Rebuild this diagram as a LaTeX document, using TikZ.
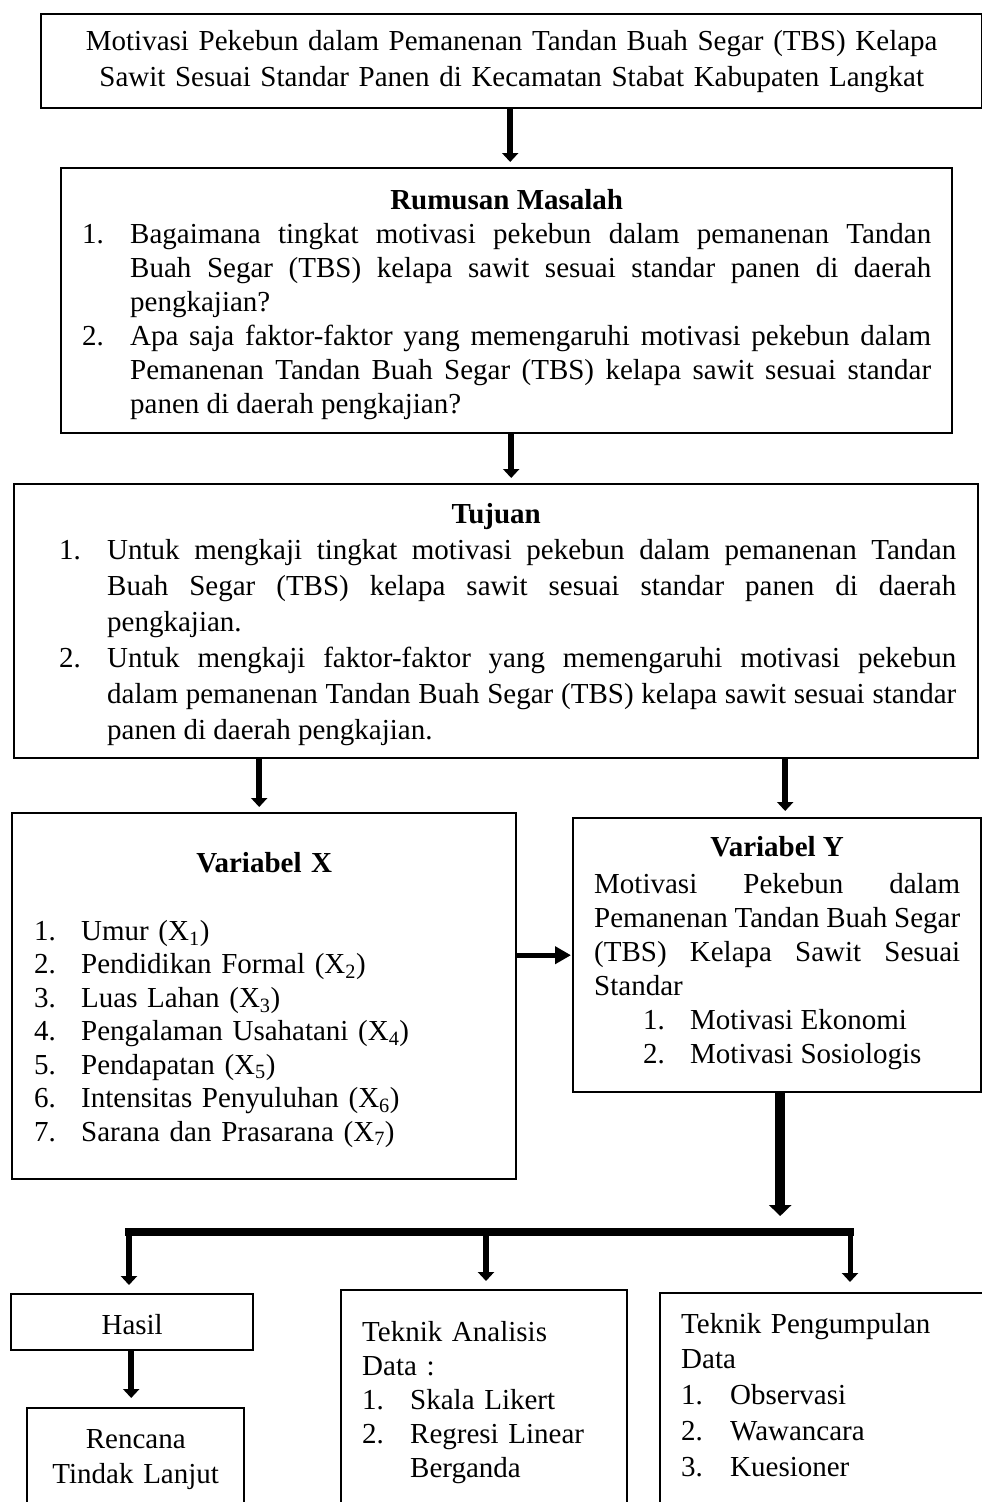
\documentclass[tikz,border=0pt]{standalone}
\usepackage{fontspec}
\setmainfont{Liberation Serif}
\usetikzlibrary{arrows.meta}
\newcommand{\butir}[4]{\par\leftskip=#1\relax\hangindent=#2\relax\hangafter=1\noindent\makebox[#2][l]{#3}#4}

\begin{document}
\begin{tikzpicture}[x=1pt,y=-1pt]
	\tikzstyle{every node}+=[inner sep=0pt]
	\tikzstyle{kotak}=[draw=black, line width=2.4pt, anchor=north west, inner ysep=0pt, inner xsep=21pt, align=justify, font=\fontsize{29}{34}\selectfont]
	\tikzstyle{panah}=[line width=6.5pt, -{Triangle[length=9pt,width=16pt]}]
	\tikzstyle{panahkecil}=[line width=5pt, -{Triangle[length=16pt,width=17pt]}]
	\tikzstyle{panahtebal}=[line width=10pt, -{Triangle[length=11pt,width=22pt]}]
	\clip (0,0) rectangle (982,1502);
	\node (judul) [kotak, align=center, inner xsep=20.5pt, text width=900pt, text height=36pt, text depth=58pt, font=\fontsize{29}{36}\selectfont] at (40,13) {Motivasi Pekebun dalam Pemanenan Tandan Buah Segar (TBS) Kelapa\\Sawit Sesuai Standar Panen di Kecamatan Stabat Kabupaten Langkat};
	\node (rumusan) [kotak, text width=849pt, text height=41pt, text depth=224pt] at (60,167) {{\centering\bfseries Rumusan Masalah\par}
		\butir{0pt}{48pt}{1.}{Bagaimana tingkat motivasi pekebun dalam pemanenan Tandan\linebreak Buah Segar (TBS) kelapa sawit sesuai standar panen di daerah\linebreak pengkajian?}
		\butir{0pt}{48pt}{2.}{Apa saja faktor-faktor yang memengaruhi motivasi pekebun dalam\linebreak Pemanenan Tandan Buah Segar (TBS) kelapa sawit sesuai standar\linebreak panen di daerah pengkajian?}\par};
	\node (tujuan) [kotak, inner xsep=22pt, text width=920pt, text height=39pt, text depth=235pt, font=\fontsize{29}{36}\selectfont] at (13,483) {{\centering\bfseries Tujuan\par}
		\butir{23pt}{48pt}{1.}{Untuk mengkaji tingkat motivasi pekebun dalam pemanenan Tandan\linebreak Buah Segar (TBS) kelapa sawit sesuai standar panen di daerah\linebreak pengkajian.}
		\butir{23pt}{48pt}{2.}{Untuk mengkaji faktor-faktor yang memengaruhi motivasi pekebun\linebreak dalam pemanenan Tandan Buah Segar (TBS) kelapa sawit sesuai standar\linebreak panen di daerah pengkajian.}\par};
	\node (varx) [kotak, align=left, inner xsep=22pt, text width=460pt, text height=59pt, text depth=307pt, font=\fontsize{29}{33.5}\selectfont] at (11,812) {{\centering\bfseries Variabel X\par}\vspace{34.5pt}
		\butir{0pt}{47pt}{1.}{Umur (X\textsubscript{1})}
		\butir{0pt}{47pt}{2.}{Pendidikan Formal (X\textsubscript{2})}
		\butir{0pt}{47pt}{3.}{Luas Lahan (X\textsubscript{3})}
		\butir{0pt}{47pt}{4.}{Pengalaman Usahatani (X\textsubscript{4})}
		\butir{0pt}{47pt}{5.}{Pendapatan (X\textsubscript{5})}
		\butir{0pt}{47pt}{6.}{Intensitas Penyuluhan (X\textsubscript{6})}
		\butir{0pt}{47pt}{7.}{Sarana dan Prasarana (X\textsubscript{7})}\par};
	\node (vary) [kotak, text width=366pt, text height=38pt, text depth=236pt] at (572,817) {{\centering\bfseries Variabel Y\par}\vspace{3pt}
		Motivasi Pekebun dalam\linebreak Pemanenan Tandan Buah Segar\linebreak (TBS) Kelapa Sawit Sesuai\linebreak Standar
		\butir{49pt}{47pt}{1.}{Motivasi Ekonomi}
		\butir{49pt}{47pt}{2.}{Motivasi Sosiologis}\par};
	\node (hasil) [kotak, align=center, inner xsep=10pt, text width=222pt, text height=40pt, text depth=16pt] at (10,1293) {Hasil};
	\node (rencana) [kotak, align=center, inner xsep=10pt, text width=197pt, text height=40pt, text depth=150pt, font=\fontsize{29}{35}\selectfont] at (26,1407) {Rencana\\Tindak Lanjut};
	\node (analisis) [kotak, align=left, text width=244pt, text height=51pt, text depth=200pt] at (340,1289) {Teknik Analisis\par Data :
		\butir{0pt}{48pt}{1.}{Skala Likert}
		\butir{0pt}{48pt}{2.}{Regresi Linear\hfil\break Berganda}\par};
	\node (kumpul) [kotak, align=left, text width=380pt, text height=40pt, text depth=200pt, font=\fontsize{29}{35.75}\selectfont] at (659,1292) {Teknik Pengumpulan\par Data
		\butir{0pt}{49pt}{1.}{Observasi}
		\butir{0pt}{49pt}{2.}{Wawancara}
		\butir{0pt}{49pt}{3.}{Kuesioner}\par};
	\coordinate (cabangkiri) at (129,1232);
	\coordinate (cabangtengah) at (486,1232);
	\coordinate (cabangkanan) at (850,1232);
	\draw [panah, shorten >=5pt] ([xshift=-1.5pt]judul.south) -- ([xshift=-1.5pt]judul.south |- rumusan.north);
	\draw [panah, shorten >=5pt] ([xshift=4.5pt]rumusan.south) -- ([xshift=4.5pt]rumusan.south |- tujuan.north);
	\draw [panah, shorten >=5pt] ([xshift=-5pt]varx.north |- tujuan.south) -- ([xshift=-5pt]varx.north);
	\draw [panah, shorten >=6pt] ([xshift=8pt]vary.north |- tujuan.south) -- ([xshift=8pt]vary.north);
	\draw [panahkecil, shorten >=1pt] ([yshift=41pt]varx.east) -- ([yshift=41pt]varx.east -| vary.west);
	\draw [panahtebal, shorten >=16pt] ([xshift=3pt]vary.south) -- ([xshift=3pt]vary.south |- cabangtengah);
	\draw [line width=8pt, line cap=rect] (cabangkiri) -- (cabangkanan);
	\draw [panah, shorten >=8pt] (cabangkiri) -- (cabangkiri |- hasil.north);
	\draw [panah, shorten >=8pt] (cabangtengah) -- (cabangtengah |- analisis.north);
	\draw [panah, line width=5pt, shorten >=10pt] (cabangkanan) -- (cabangkanan |- kumpul.north);
	\draw [panah, shorten >=9pt] ([xshift=-1pt]hasil.south) -- ([xshift=-1pt]hasil.south |- rencana.north);
\end{tikzpicture}
\end{document}
